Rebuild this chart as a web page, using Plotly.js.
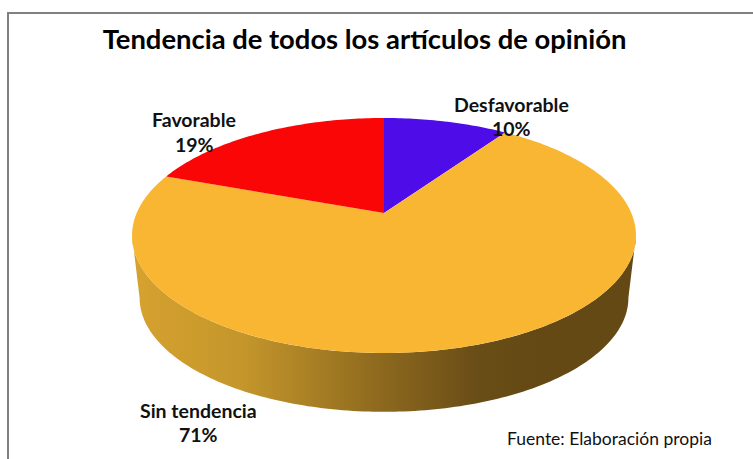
<!DOCTYPE html>
<html>
<head>
<meta charset="utf-8">
<script src="https://cdn.plot.ly/plotly-3.0.1.min.js"></script>
<style>html,body{margin:0;padding:0;background:#fff}</style>
</head>
<body>
<div id="chart" style="width:753px;height:459px"></div>
<script>
// Data, clockwise from 12 o'clock (printed labels round to 10, 71, 19)
const categories = ["Desfavorable", "Sin tendencia", "Favorable"];
const shares = [9.6, 71, 19.4];
const sliceColors = ["#4D0CE8", "#F9B633", "#FB0606"];
const chartTitle = "Tendencia de todos los artículos de opinión";
const sourceNote = "Fuente: Elaboración propia";

// Perspective disc seen from above
const cx = 384, apexTop = 213, apexBottom = 276;
const halfW = 247.3, halfH = 113.2, persp = -0.1915, bottomScale = 0.97;
function project(deg, apexY, s) {
  const t = deg * Math.PI / 180, u = Math.sin(t), v = -Math.cos(t), d = 1 + persp * v;
  return [cx + s * halfW * u / d, apexY + s * halfH * v / d];
}
function arc(from, to, apexY, s) {
  const n = Math.max(2, Math.ceil(Math.abs(to - from))), pts = [];
  for (let i = 0; i <= n; i++) pts.push(project(from + (to - from) * i / n, apexY, s));
  return pts;
}

const traces = [];
// Side wall: silhouette from the left edge through the front to the right edge
const edge = Math.acos(persp) * 180 / Math.PI;
const wall = arc(360 - edge, edge, apexBottom, bottomScale).concat(arc(edge, 360 - edge, apexTop, 1));
traces.push({
  type: "scatter", mode: "none", fill: "toself", hoverinfo: "skip",
  x: wall.map(p => p[0]), y: wall.map(p => p[1]),
  fillgradient: {
    type: "horizontal",
    colorscale: [[0, "#D6A22F"], [0.22, "#C4962B"], [0.5, "#8C681E"], [0.68, "#6A4E17"], [0.8, "#644914"], [1, "#644914"]]
  }
});
// Top face slices
let start = 0;
const total = shares.reduce((a, b) => a + b, 0);
shares.forEach((value, i) => {
  const sweep = value / total * 360;
  const pts = [[cx, apexTop]].concat(arc(start, start + sweep, apexTop, 1));
  pts.push([cx, apexTop]);
  traces.push({
    type: "scatter", mode: "none", fill: "toself", name: categories[i],
    x: pts.map(p => p[0]), y: pts.map(p => p[1]),
    fillcolor: sliceColors[i], hoveron: "fills", hoverinfo: "text",
    text: categories[i] + " " + Math.round(value) + "%"
  });
  start += sweep;
});

const labelFont = { family: "Lato, sans-serif", size: 19.5, color: "#111111", weight: 700 };
const labelAnchors = [[511, 104, 128], [198, 410, 434], [194, 119, 144]];
const annotations = [];
categories.forEach((c, i) => {
  const a = labelAnchors[i];
  annotations.push({ x: a[0], y: a[1], text: c, showarrow: false, xanchor: "center", yanchor: "middle", font: labelFont });
  annotations.push({ x: a[0], y: a[2], text: Math.round(shares[i]) + "%", showarrow: false, xanchor: "center", yanchor: "middle", font: labelFont });
});
annotations.push({ x: 505, y: 438, text: sourceNote, showarrow: false, xanchor: "left", yanchor: "middle",
  font: { family: "Lato, sans-serif", size: 17.5, color: "#111111" } });

const layout = {
  width: 753, height: 459,
  margin: { l: 0, r: 0, t: 0, b: 0 },
  paper_bgcolor: "#ffffff", plot_bgcolor: "#ffffff",
  showlegend: false,
  title: { text: chartTitle, x: 364.5 / 753, xanchor: "center", y: 1 - 39 / 459, yanchor: "middle",
    font: { family: "Lato, sans-serif", size: 27.4, color: "#000000", weight: 700 } },
  xaxis: { range: [0, 753], visible: false, fixedrange: true },
  yaxis: { range: [459, 0], visible: false, fixedrange: true },
  annotations: annotations,
  shapes: [
    { type: "line", xref: "x", yref: "y", x0: 8, x1: 8, y0: 13, y1: 459, line: { color: "#808080", width: 2 } },
    { type: "line", xref: "x", yref: "y", x0: 7, x1: 753, y0: 13, y1: 13, line: { color: "#808080", width: 2 } }
  ]
};
Plotly.newPlot("chart", traces, layout, { displayModeBar: false, staticPlot: true });
</script>
</body>
</html>
